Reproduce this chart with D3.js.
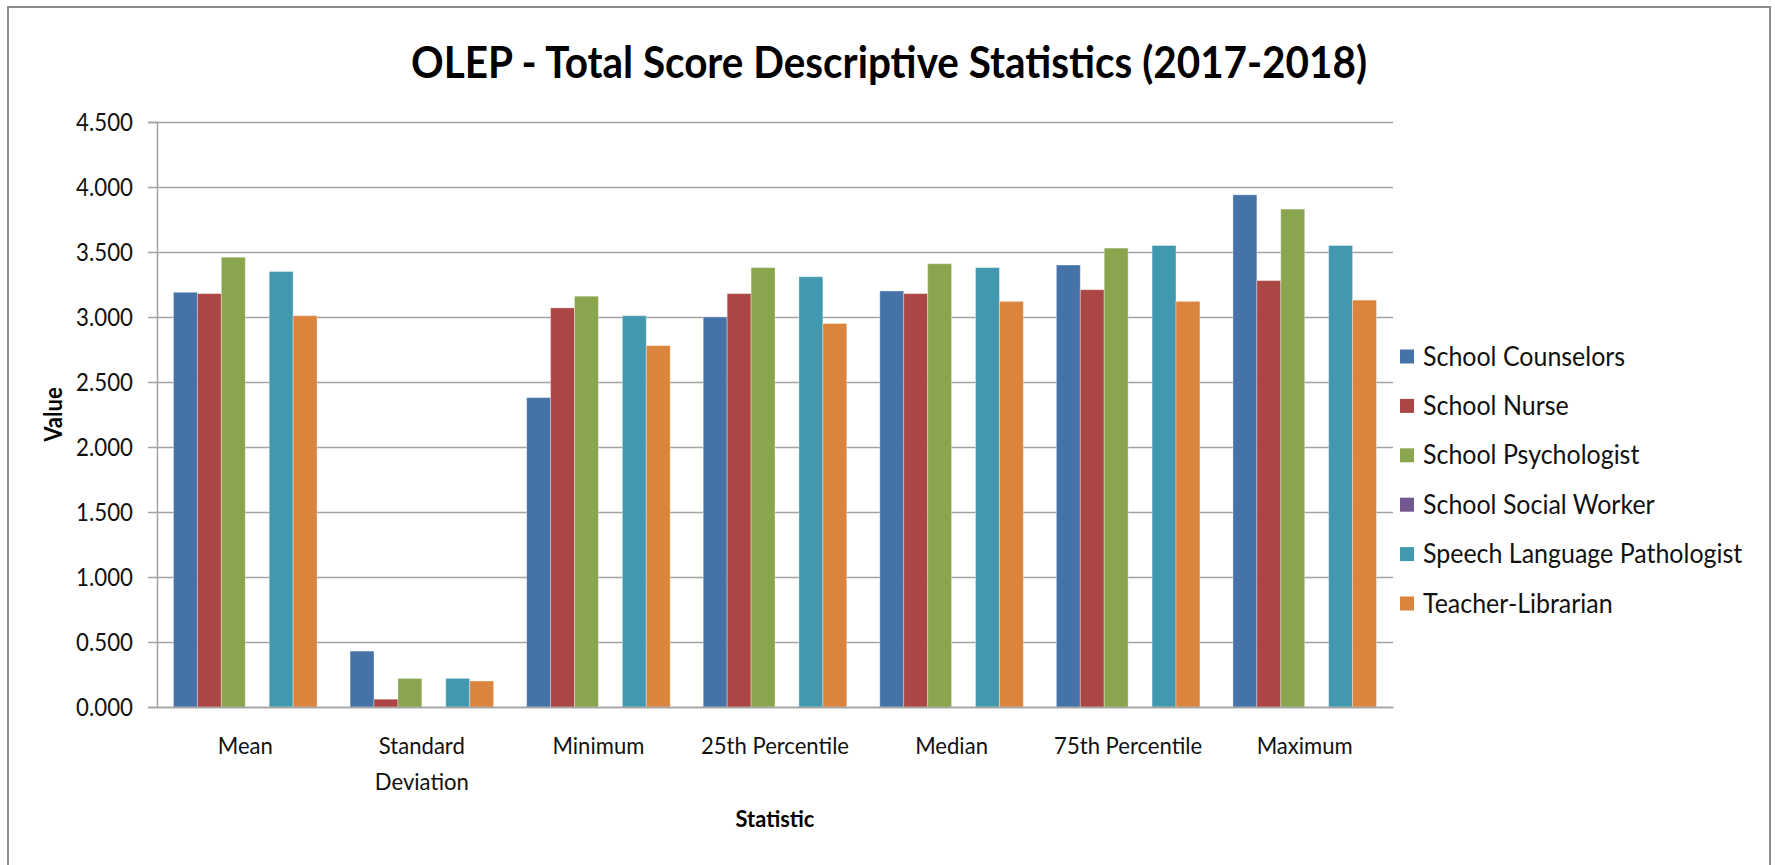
<!DOCTYPE html>
<html>
<head>
<meta charset="utf-8">
<script src="https://cdn.jsdelivr.net/npm/d3@7"></script>
<style>
  body { margin: 0; background: #fff; }
  svg { display: block; font-family: Lato, "Open Sans", sans-serif; }
</style>
</head>
<body>
<svg id="chart" width="1775" height="865"></svg>
<script>
// chart data
var categories = ["Mean", "Standard Deviation", "Minimum", "25th Percentile", "Median", "75th Percentile", "Maximum"];
var seriesNames = ["School Counselors", "School Nurse", "School Psychologist", "School Social Worker", "Speech Language Pathologist", "Teacher-Librarian"];
var seriesColors = ["#4572A7", "#AA4643", "#89A54E", "#71588F", "#4198AF", "#DB843D"];

var counselors = [3.19, 0.43, 2.38, 3.00, 3.20, 3.40, 3.94];
var nurse      = [3.18, 0.06, 3.07, 3.18, 3.18, 3.21, 3.28];
var psych      = [3.46, 0.22, 3.16, 3.38, 3.41, 3.53, 3.83];
var social     = [null, null, null, null, null, null, null];
var speech     = [3.35, 0.22, 3.01, 3.31, 3.38, 3.55, 3.55];
var librarian  = [3.01, 0.20, 2.78, 2.95, 3.12, 3.12, 3.13];

var yTicks = [0, 0.5, 1, 1.5, 2, 2.5, 3, 3.5, 4, 4.5];

var allSeries = [counselors, nurse, psych, social, speech, librarian];

var svg = d3.select("#chart");

var plot = { left: 157, right: 1393, top: 122, bottom: 707 };

// narrow the text a bit, the original is a squeezed Calibri
function squeeze(sel, k) {
  sel.each(function() {
    var len = this.getComputedTextLength();
    d3.select(this).attr("textLength", len * k).attr("lengthAdjust", "spacingAndGlyphs");
  });
}

// outer frame
svg.append("rect")
  .attr("x", 8).attr("y", 7)
  .attr("width", 1762).attr("height", 900)
  .attr("fill", "none")
  .attr("stroke", "#8c8c8c")
  .attr("stroke-width", 2);

var x = d3.scaleBand()
  .domain(categories)
  .range([plot.left, plot.right])
  .paddingInner(0).paddingOuter(0);

var xSeries = d3.scaleBand()
  .domain(seriesNames)
  .range([0, x.bandwidth()])
  .paddingInner(0).paddingOuter(0.69);

var y = d3.scaleLinear()
  .domain([0, 4.5])
  .range([plot.bottom, plot.top]);

// gridlines
svg.append("g")
  .attr("class", "grid")
  .attr("transform", "translate(" + plot.left + ",0)")
  .call(d3.axisLeft(y).tickValues(yTicks).tickSize(-(plot.right - plot.left)).tickFormat(""))
  .call(function(g) {
    g.select(".domain").remove();
    g.selectAll("line").attr("stroke", "#a3a3a3").attr("stroke-width", 1.5);
  });

// bars
var groups = svg.append("g")
  .selectAll("g")
  .data(allSeries)
  .enter().append("g")
  .attr("fill", function(d, i) { return seriesColors[i]; });

groups.selectAll("rect")
  .data(function(d, i) {
    return d.map(function(v, j) { return { cat: categories[j], series: seriesNames[i], value: v }; })
      .filter(function(o) { return o.value != null; });
  })
  .enter().append("rect")
  .attr("x", function(d) { return x(d.cat) + xSeries(d.series); })
  .attr("y", function(d) { return y(d.value); })
  .attr("width", xSeries.bandwidth())
  .attr("height", function(d) { return y(0) - y(d.value); })
  .attr("stroke", "rgba(255,255,255,0.35)")
  .attr("stroke-width", 1);

// y axis
var yAxis = svg.append("g")
  .attr("transform", "translate(" + plot.left + ",0)")
  .call(d3.axisLeft(y).tickValues(yTicks).tickSize(9).tickPadding(15).tickFormat(d3.format(".3f")));
yAxis.select(".domain").attr("stroke", "#a3a3a3").attr("stroke-width", 1.5);
yAxis.selectAll(".tick line").attr("stroke", "#a3a3a3").attr("stroke-width", 1.5);
yAxis.selectAll(".tick text")
  .attr("font-family", "Lato")
  .attr("font-size", 25)
  .attr("fill", "#111")
  .call(squeeze, 0.89);

// x axis line
var xAxis = svg.append("g")
  .attr("transform", "translate(0," + plot.bottom + ")")
  .call(d3.axisBottom(x).tickSize(0).tickFormat(""));
xAxis.select(".domain").attr("stroke", "#a3a3a3").attr("stroke-width", 1.5);

// category labels, long ones wrap onto two lines
var xLabels = svg.append("g")
  .selectAll("text")
  .data(categories)
  .enter().append("text")
  .attr("x", function(d) { return x(d) + x.bandwidth() / 2; })
  .attr("y", 754)
  .attr("text-anchor", "middle")
  .attr("font-size", 23)
  .attr("fill", "#111");

xLabels.each(function(d) {
  var words = d.split(" ");
  var lines = (d == "Standard Deviation") ? words : [d];
  var t = d3.select(this);
  lines.forEach(function(line, i) {
    t.append("tspan")
      .attr("x", x(d) + x.bandwidth() / 2)
      .attr("dy", i == 0 ? 0 : 36)
      .text(line);
  });
});
xLabels.selectAll("tspan").call(squeeze, 0.96);

// title
svg.append("text")
  .attr("x", 889)
  .attr("y", 78)
  .attr("text-anchor", "middle")
  .attr("font-size", 43)
  .attr("font-weight", "bold")
  .attr("fill", "#000")
  .attr("textLength", 956)
  .attr("lengthAdjust", "spacingAndGlyphs")
  .text("OLEP - Total Score Descriptive Statistics (2017-2018)");

// axis titles
svg.append("text")
  .attr("transform", "translate(62," + ((plot.top + plot.bottom) / 2) + ") rotate(-90)")
  .attr("text-anchor", "middle")
  .attr("font-size", 24)
  .attr("font-weight", "bold")
  .attr("fill", "#000")
  .text("Value")
  .call(squeeze, 0.92);

svg.append("text")
  .attr("x", (plot.left + plot.right) / 2)
  .attr("y", 827)
  .attr("text-anchor", "middle")
  .attr("font-size", 23)
  .attr("font-weight", "bold")
  .attr("fill", "#000")
  .text("Statistic")
  .call(squeeze, 0.95);

// legend
var legend = svg.append("g")
  .selectAll("g")
  .data(seriesNames)
  .enter().append("g")
  .attr("transform", function(d, i) { return "translate(1400," + (356.5 + i * 49.4) + ")"; });

legend.append("rect")
  .attr("x", 0).attr("y", -7)
  .attr("width", 14).attr("height", 14)
  .attr("fill", function(d, i) { return seriesColors[i]; });

legend.append("text")
  .attr("x", 23)
  .attr("dy", "0.35em")
  .attr("font-size", 26)
  .attr("fill", "#111")
  .text(function(d) { return d; })
  .call(squeeze, 0.96);
</script>
</body>
</html>
